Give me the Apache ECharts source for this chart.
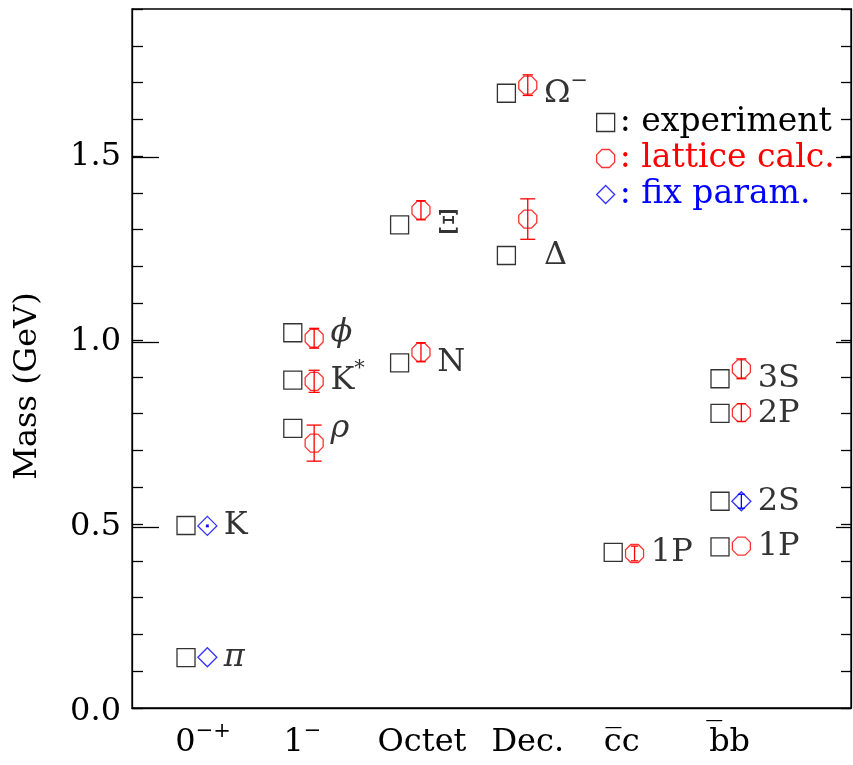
<!DOCTYPE html>
<html><head><meta charset="utf-8">
<script src="https://cdn.jsdelivr.net/npm/echarts@6/dist/echarts.min.js"></script>
<style>html,body{margin:0;padding:0;background:#fff}#c{width:853px;height:765px}</style>
</head><body><div id="c"></div>
<script>
// ---- data ----
const categories = ['0{sup|\u2212+}', '1{sup|\u2212}', 'Octet', 'Dec.', 'c\u0305c', 'b\u0305b'];
const exptCat  = [0, 0, 1, 1, 1, 2, 2, 3, 3, 4, 5, 5, 5, 5];
const exptMass = [0.137, 0.496, 0.760, 0.891, 1.020, 0.938, 1.313, 1.230, 1.671, 0.423, 0.895, 0.801, 0.562, 0.438];
const particleNames = ['{it|\u03c0}', 'K', '{it|\u03c1}', 'K{sup|*}', '{it|\u03d5}', 'N', '\u039e', '\u0394', '\u03a9{sup|\u2212}', '1P', '3S', '2P', '2S', '1P'];
const latCat  = [1, 1, 1, 2, 2, 3, 3, 4, 5, 5, 5];
const latMass = [0.720, 0.888, 1.005, 0.967, 1.353, 1.329, 1.693, 0.420, 0.922, 0.803, 0.440];
const latErr  = [0.049, 0.030, 0.027, 0.026, 0.026, 0.055, 0.028, 0.020, 0.027, 0.024, 0];
const fixCat  = [0, 0, 5];
const fixMass = [0.138, 0.495, 0.562];
const fixErr  = [0, 0.002, 0.019];
const yMajorTicks = [0.5, 1.0, 1.5];
const yTickFmt = v => v.toFixed(1);

// ---- layout / style ----
const FONT = 'DejaVu Serif';
const LAT_SHIFT = 0.2;
const X_LABEL_SHIFT = [0.16, 0.09, 0.21, 0.20, 0.08, 0.09];
const X_MIN = -0.5056, X_MAX = 6.2266;
const Y_MIN = 0, Y_MAX = 1.9;
const GRID = {left: 132, right: 2, top: 9, bottom: 53};
const OCTAGON = 'path://M29.29,0 L70.71,0 L100,29.29 L100,70.71 L70.71,100 L29.29,100 L0,70.71 L0,29.29 Z';
const LW = 1.3;
const richSup = {
  sup: {fontSize: 21, lineHeight: 22, verticalAlign: 'top', fontFamily: FONT},
  it: {fontStyle: 'italic', fontFamily: FONT, fontSize: 32}
};

const xLabelPos = categories.map((_, i) => +(i + X_LABEL_SHIFT[i]).toFixed(3));

function errRender(color) {
  return function (params, api) {
    const x = api.value(0), y = api.value(1), e = api.value(2);
    if (!(e > 0)) return null;
    const t = api.coord([x, y + e]), b = api.coord([x, y - e]);
    const half = (b[1] - t[1]) / 2;
    const cw = Math.min(7.5, Math.max(1.5, half * 0.5));
    const style = {stroke: color, lineWidth: LW, fill: null};
    return {type: 'group', children: [
      {type: 'line', shape: {x1: t[0], y1: t[1], x2: b[0], y2: b[1]}, style},
      {type: 'line', shape: {x1: t[0] - cw, y1: t[1], x2: t[0] + cw, y2: t[1]}, style},
      {type: 'line', shape: {x1: b[0] - cw, y1: b[1], x2: b[0] + cw, y2: b[1]}, style}
    ]};
  };
}

const axisLine = {show: true, onZero: false, lineStyle: {color: '#000', width: LW}};
const noLine = {show: false, onZero: false};

const option = {
  animation: false,
  backgroundColor: '#fff',
  grid: [
    Object.assign({show: true, borderColor: '#000', borderWidth: LW, backgroundColor: 'transparent'}, GRID),
    Object.assign({show: false}, GRID)
  ],
  xAxis: [
    {type: 'value', gridIndex: 0, min: X_MIN, max: X_MAX, axisLine,
     axisTick: {show: false}, splitLine: {show: false},
     axisLabel: {customValues: xLabelPos, margin: 13, fontFamily: FONT, fontSize: 32, color: '#000', lineHeight: 44,
       formatter: v => { const i = xLabelPos.findIndex(p => Math.abs(p - v) < 1e-3); return i >= 0 ? categories[i] : ''; },
       rich: richSup}},
    {type: 'value', gridIndex: 1, min: X_MIN, max: X_MAX, show: false, axisLine: noLine}
  ],
  yAxis: [
    {type: 'value', gridIndex: 0, position: 'left', min: Y_MIN, max: Y_MAX, interval: 0.1, axisLine,
     axisTick: {show: true, inside: true, length: 11, lineStyle: {color: '#000', width: LW}},
     axisLabel: {show: false}, splitLine: {show: false}},
    {type: 'value', gridIndex: 0, position: 'right', min: Y_MIN, max: Y_MAX, interval: 0.1, axisLine,
     axisTick: {show: true, inside: true, length: 10, lineStyle: {color: '#000', width: LW}},
     axisLabel: {show: false}, splitLine: {show: false}},
    {type: 'value', gridIndex: 1, position: 'left', min: Y_MIN, max: Y_MAX, interval: 0.5, axisLine: noLine,
     axisTick: {show: true, inside: true, length: 27, customValues: yMajorTicks, lineStyle: {color: '#000', width: LW}},
     axisLabel: {show: true, showMaxLabel: false, formatter: yTickFmt, margin: 11, fontFamily: FONT, fontSize: 32, color: '#000'},
     splitLine: {show: false}},
    {type: 'value', gridIndex: 1, position: 'right', min: Y_MIN, max: Y_MAX, interval: 0.5, axisLine: noLine,
     axisTick: {show: true, inside: true, length: 15, customValues: yMajorTicks, lineStyle: {color: '#000', width: LW}},
     axisLabel: {show: false}, splitLine: {show: false}}
  ],
  legend: {
    orient: 'vertical', left: 596, top: 106, padding: 0,
    itemWidth: 18, itemHeight: 18, itemGap: 3, selectedMode: false,
    formatter: n => ': ' + n,
    itemStyle: {borderWidth: LW},
    textStyle: {fontFamily: FONT, fontSize: 33, lineHeight: 32},
    data: [
      {name: 'experiment', textStyle: {color: '#000'}},
      {name: 'lattice calc.', textStyle: {color: '#ff0000'}},
      {name: 'fix param.', textStyle: {color: '#0000ff'}}
    ]
  },
  graphic: [{
    type: 'text', x: 28, y: 386, rotation: Math.PI / 2,
    style: {text: 'Mass (GeV)', fontFamily: FONT, fontSize: 32, fill: '#000', align: 'center', verticalAlign: 'middle'}
  }],
  series: [
    {name: 'experiment', type: 'scatter', xAxisIndex: 0, yAxisIndex: 0, z: 3,
     symbol: 'rect', symbolSize: 18,
     itemStyle: {color: 'rgba(0,0,0,0)', borderColor: '#000', borderWidth: LW},
     emphasis: {disabled: true},
     label: {show: true, position: 'right', distance: 28, color: '#000', fontFamily: FONT, fontSize: 32, lineHeight: 44,
       formatter: p => particleNames[p.dataIndex], rich: richSup},
     data: exptCat.map((c, i) => [c, exptMass[i]])},
    {name: 'lattice calc.', type: 'scatter', xAxisIndex: 0, yAxisIndex: 0, z: 3,
     symbol: OCTAGON, symbolSize: 18,
     itemStyle: {color: 'rgba(0,0,0,0)', borderColor: '#ff0000', borderWidth: LW},
     emphasis: {disabled: true},
     data: latCat.map((c, i) => [c + LAT_SHIFT, latMass[i]])},
    {name: 'fix param.', type: 'scatter', xAxisIndex: 0, yAxisIndex: 0, z: 3,
     symbol: 'diamond', symbolSize: 19,
     itemStyle: {color: 'rgba(0,0,0,0)', borderColor: '#0000ff', borderWidth: LW},
     emphasis: {disabled: true},
     data: fixCat.map((c, i) => [c + LAT_SHIFT, fixMass[i]])},
    {name: 'lattice err', type: 'custom', xAxisIndex: 0, yAxisIndex: 0, z: 4,
     renderItem: errRender('#ff0000'),
     data: latCat.map((c, i) => [c + LAT_SHIFT, latMass[i], latErr[i]])},
    {name: 'fix err', type: 'custom', xAxisIndex: 0, yAxisIndex: 0, z: 4,
     renderItem: errRender('#0000ff'),
     data: fixCat.map((c, i) => [c + LAT_SHIFT, fixMass[i], fixErr[i]])}
  ]
};
const chart = echarts.init(document.getElementById('c'), null, {renderer: 'canvas'});
chart.setOption(option);
</script>
</body></html>
